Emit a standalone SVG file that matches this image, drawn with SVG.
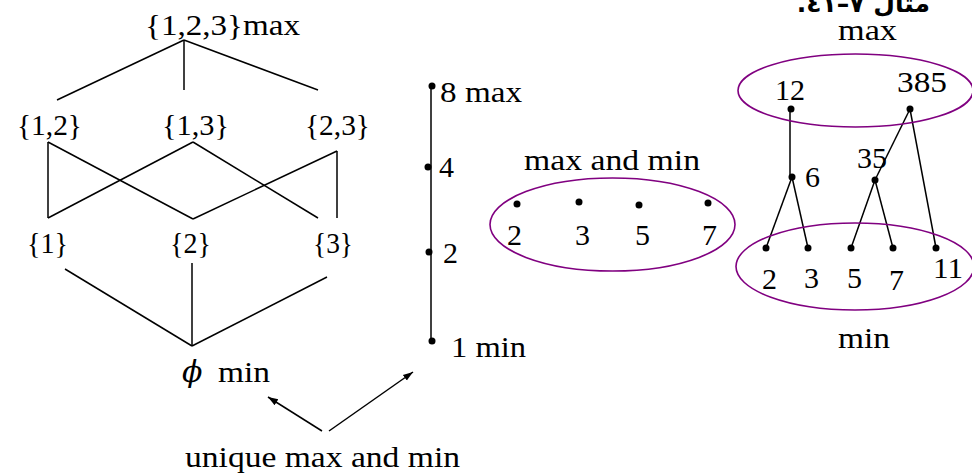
<svg xmlns="http://www.w3.org/2000/svg" width="972" height="476" viewBox="0 0 972 476" font-family="'Liberation Serif', 'Times New Roman', serif">
<style>
text{font-family:'Liberation Serif','Times New Roman',serif;font-size:30px;fill:#000}
.edge{stroke:#000;stroke-width:1.5;fill:none}
.ell{stroke:#800080;stroke-width:1.6;fill:none}
.dot{fill:#000}
.ar{font-family:'DejaVu Sans',sans-serif;font-weight:bold;font-size:25px}
.phi{font-family:'DejaVu Serif',serif;font-style:italic}
</style>
<defs>
<marker id="ah" viewBox="0 0 10 10" refX="10" refY="5" markerWidth="10" markerHeight="10" markerUnits="userSpaceOnUse" orient="auto">
<path d="M0,1.5 L10,5 L0,8.5 Z" fill="#000"/>
</marker>
</defs>
<rect width="972" height="476" fill="#fff"/>

<g id="title">
<text class="ar" x="930" y="12" direction="rtl" text-anchor="start">مثال ٧–٤١.</text>
</g>

<g id="connectors">
<line class="edge" x1="184" y1="40" x2="57" y2="100"/>
<line class="edge" x1="184" y1="40" x2="184" y2="90"/>
<line class="edge" x1="184" y1="40" x2="318" y2="90"/>
<line class="edge" x1="48" y1="142" x2="48" y2="218"/>
<line class="edge" x1="48" y1="142" x2="193" y2="219"/>
<line class="edge" x1="193" y1="142" x2="48" y2="218"/>
<line class="edge" x1="193" y1="142" x2="318" y2="218"/>
<line class="edge" x1="337" y1="151" x2="193" y2="219"/>
<line class="edge" x1="337" y1="151" x2="337" y2="218"/>
<line class="edge" x1="65" y1="269" x2="192" y2="346"/>
<line class="edge" x1="192" y1="263" x2="192" y2="346"/>
<line class="edge" x1="327" y1="277" x2="192" y2="346"/>
<line class="edge" x1="431" y1="86" x2="431" y2="341"/>
<line class="edge" x1="790" y1="109" x2="790" y2="177"/>
<line class="edge" x1="792" y1="177" x2="766" y2="248"/>
<line class="edge" x1="792" y1="177" x2="808" y2="248"/>
<line class="edge" x1="910" y1="109" x2="875" y2="180"/>
<line class="edge" x1="910" y1="109" x2="936" y2="248"/>
<line class="edge" x1="875" y1="180" x2="851" y2="248"/>
<line class="edge" x1="875" y1="180" x2="893" y2="248"/>
<line class="edge" x1="322" y1="431" x2="268" y2="397" marker-end="url(#ah)"/>
<line class="edge" x1="329" y1="431" x2="413" y2="372" marker-end="url(#ah)"/>
</g>

<g id="n123"><text x="145" y="35" textLength="155" lengthAdjust="spacingAndGlyphs">{1,2,3}max</text></g>
<g id="n12"><text x="17" y="135" textLength="65" lengthAdjust="spacingAndGlyphs">{1,2}</text></g>
<g id="n13"><text x="162" y="135" textLength="67" lengthAdjust="spacingAndGlyphs">{1,3}</text></g>
<g id="n23"><text x="305" y="135" textLength="65" lengthAdjust="spacingAndGlyphs">{2,3}</text></g>
<g id="n1"><text x="27" y="253" textLength="41" lengthAdjust="spacingAndGlyphs">{1}</text></g>
<g id="n2"><text x="170" y="253" textLength="41" lengthAdjust="spacingAndGlyphs">{2}</text></g>
<g id="n3"><text x="313" y="253" textLength="40" lengthAdjust="spacingAndGlyphs">{3}</text></g>
<g id="nphi">
<text class="phi" x="182" y="382" font-size="27">ϕ</text>
<text x="218" y="382" textLength="52" lengthAdjust="spacingAndGlyphs">min</text>
</g>

<g id="c8"><circle class="dot" cx="432" cy="86" r="3.5"/><text x="440" y="102" textLength="82" lengthAdjust="spacingAndGlyphs">8 max</text></g>
<g id="c4"><circle class="dot" cx="428" cy="167" r="3.5"/><text x="439" y="177">4</text></g>
<g id="c2"><circle class="dot" cx="429" cy="252" r="3.5"/><text x="443" y="263">2</text></g>
<g id="c1"><circle class="dot" cx="432" cy="341" r="3.5"/><text x="451" y="357" textLength="75" lengthAdjust="spacingAndGlyphs">1 min</text></g>

<g id="primes">
<text x="524" y="170" textLength="176" lengthAdjust="spacingAndGlyphs">max and min</text>
<ellipse class="ell" cx="612.5" cy="224.5" rx="122.5" ry="46.5"/>
<circle class="dot" cx="517" cy="204" r="3.5"/>
<circle class="dot" cx="579" cy="202" r="3.5"/>
<circle class="dot" cx="639" cy="205" r="3.5"/>
<circle class="dot" cx="708" cy="203" r="3.5"/>
<text x="507" y="245">2</text>
<text x="575" y="245">3</text>
<text x="635" y="245">5</text>
<text x="702" y="245">7</text>
</g>

<g id="maxset">
<text x="838" y="40" textLength="59" lengthAdjust="spacingAndGlyphs">max</text>
<ellipse class="ell" cx="855.5" cy="90.5" rx="117.5" ry="36.5"/>
</g>
<g id="d12"><circle class="dot" cx="791" cy="109" r="3.5"/><text x="775" y="100" textLength="30" lengthAdjust="spacingAndGlyphs">12</text></g>
<g id="d385"><circle class="dot" cx="910" cy="109" r="3.5"/><text x="897" y="92" textLength="50" lengthAdjust="spacingAndGlyphs">385</text></g>
<g id="d6"><circle class="dot" cx="792" cy="177" r="3.5"/><text x="805" y="187">6</text></g>
<g id="d35"><circle class="dot" cx="875" cy="180" r="3.5"/><text x="857" y="168" textLength="30" lengthAdjust="spacingAndGlyphs">35</text></g>
<g id="minset">
<ellipse class="ell" cx="855" cy="266.5" rx="119" ry="43.5"/>
<text x="838" y="348" textLength="52" lengthAdjust="spacingAndGlyphs">min</text>
</g>
<g id="p2"><circle class="dot" cx="766" cy="248" r="3.5"/><text x="762" y="289">2</text></g>
<g id="p3"><circle class="dot" cx="808" cy="248" r="3.5"/><text x="804" y="288">3</text></g>
<g id="p5"><circle class="dot" cx="851" cy="248" r="3.5"/><text x="847" y="288">5</text></g>
<g id="p7"><circle class="dot" cx="893" cy="248" r="3.5"/><text x="889" y="290">7</text></g>
<g id="p11"><circle class="dot" cx="936" cy="248" r="3.5"/><text x="933" y="278" textLength="30" lengthAdjust="spacingAndGlyphs">11</text></g>

<g id="caption"><text x="185" y="467" textLength="275" lengthAdjust="spacingAndGlyphs">unique max and min</text></g>
</svg>
